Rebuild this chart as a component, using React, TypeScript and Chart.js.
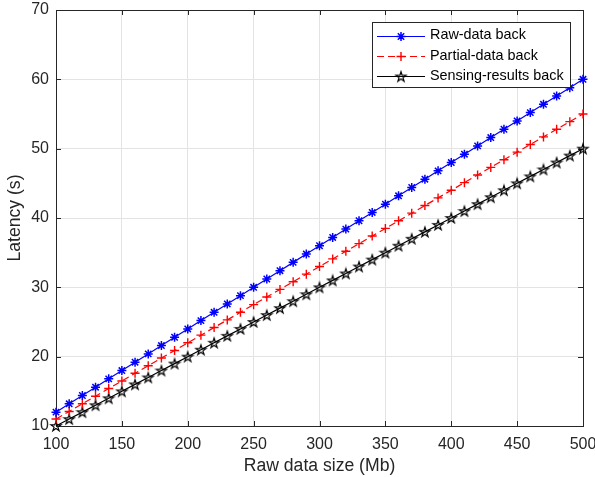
import React, { useEffect, useRef } from 'react';
import { Chart, registerables } from 'chart.js';
Chart.register(...registerables);

const xValues = [100, 110, 120, 130, 140, 150, 160, 170, 180, 190, 200, 210, 220, 230, 240, 250, 260, 270, 280, 290, 300, 310, 320, 330, 340, 350, 360, 370, 380, 390, 400, 410, 420, 430, 440, 450, 460, 470, 480, 490, 500];
const rawDataBack = [12, 13.2, 14.4, 15.6, 16.8, 18, 19.2, 20.4, 21.6, 22.8, 24, 25.2, 26.4, 27.6, 28.8, 30, 31.2, 32.4, 33.6, 34.8, 36, 37.2, 38.4, 39.6, 40.8, 42, 43.2, 44.4, 45.6, 46.8, 48, 49.2, 50.4, 51.6, 52.8, 54, 55.2, 56.4, 57.6, 58.8, 60];
const partialDataBack = [11, 12.1, 13.2, 14.3, 15.4, 16.5, 17.6, 18.7, 19.8, 20.9, 22, 23.1, 24.2, 25.3, 26.4, 27.5, 28.6, 29.7, 30.8, 31.9, 33, 34.1, 35.2, 36.3, 37.4, 38.5, 39.6, 40.7, 41.8, 42.9, 44, 45.1, 46.2, 47.3, 48.4, 49.5, 50.6, 51.7, 52.8, 53.9, 55];
const sensingResultsBack = [10, 11, 12, 13, 14, 15, 16, 17, 18, 19, 20, 21, 22, 23, 24, 25, 26, 27, 28, 29, 30, 31, 32, 33, 34, 35, 36, 37, 38, 39, 40, 41, 42, 43, 44, 45, 46, 47, 48, 49, 50];
const seriesLabels = ['Raw-data back', 'Partial-data back', 'Sensing-results back'];
const xTitle = 'Raw data size (Mb)';
const yTitle = 'Latency (s)';

const FONT = '"Liberation Sans", Arial, Helvetica, sans-serif';
const TXT = '#262626';

function makePentagram(): HTMLCanvasElement {
  const c = document.createElement('canvas');
  c.width = 14;
  c.height = 14;
  const ctx = c.getContext('2d')!;
  const R = 5.3;
  const r = R * 0.382;
  ctx.beginPath();
  for (let i = 0; i < 10; i++) {
    const ang = -Math.PI / 2 + (i * Math.PI) / 5;
    const rad = i % 2 === 0 ? R : r;
    const px = 7 + rad * Math.cos(ang);
    const py = 7.5 + rad * Math.sin(ang);
    if (i === 0) ctx.moveTo(px, py);
    else ctx.lineTo(px, py);
  }
  ctx.closePath();
  ctx.strokeStyle = '#000';
  ctx.lineWidth = 1.2;
  ctx.stroke();
  return c;
}

function drawMarker(ctx: CanvasRenderingContext2D, style: string, x: number, y: number, r: number) {
  ctx.beginPath();
  ctx.moveTo(x - r, y);
  ctx.lineTo(x + r, y);
  ctx.moveTo(x, y - r);
  ctx.lineTo(x, y + r);
  if (style === 'star') {
    const d = r * Math.SQRT1_2;
    ctx.moveTo(x - d, y - d);
    ctx.lineTo(x + d, y + d);
    ctx.moveTo(x - d, y + d);
    ctx.lineTo(x + d, y - d);
  }
  ctx.stroke();
}

export default function App() {
  const ref = useRef<HTMLCanvasElement | null>(null);

  useEffect(() => {
    document.body.style.margin = '0';
    const canvas = ref.current!;
    const penta = makePentagram();

    const framePlugin = {
      id: 'frame',
      beforeDatasetsDraw(chart: any) {
        const { ctx, chartArea } = chart;
        const { left, right, top, bottom } = chartArea;
        ctx.save();
        ctx.strokeStyle = TXT;
        ctx.lineWidth = 1;
        ctx.strokeRect(Math.round(left) + 0.5, Math.round(top) + 0.5, Math.round(right - left), Math.round(bottom - top));
        const tl = 5;
        const xs = chart.scales.x;
        const ys = chart.scales.y;
        ctx.beginPath();
        xs.ticks.forEach((t: any) => {
          const px = Math.round(xs.getPixelForValue(t.value)) + 0.5;
          ctx.moveTo(px, bottom);
          ctx.lineTo(px, bottom - tl);
          ctx.moveTo(px, top);
          ctx.lineTo(px, top + tl);
        });
        ys.ticks.forEach((t: any) => {
          const py = Math.round(ys.getPixelForValue(t.value)) + 0.5;
          ctx.moveTo(left, py);
          ctx.lineTo(left + tl, py);
          ctx.moveTo(right, py);
          ctx.lineTo(right - tl, py);
        });
        ctx.stroke();
        ctx.restore();
      },
    };

    const legendPlugin = {
      id: 'matlabLegend',
      afterDraw(chart: any) {
        const { ctx } = chart;
        const bx = 372, by = 22, bw = 198, bh = 65;
        ctx.save();
        ctx.fillStyle = '#ffffff';
        ctx.fillRect(bx, by, bw, bh);
        ctx.strokeStyle = TXT;
        ctx.lineWidth = 1;
        ctx.strokeRect(bx + 0.5, by + 0.5, bw, bh);
        const rows = [35.5, 56, 76];
        const ds = chart.data.datasets;
        ds.forEach((d: any, i: number) => {
          const y = rows[i];
          const ly = Math.round(y) + 0.5;
          ctx.save();
          ctx.strokeStyle = d.borderColor;
          ctx.lineWidth = d.borderWidth;
          if (d.borderDash) ctx.setLineDash(d.borderDash);
          ctx.beginPath();
          ctx.moveTo(377, ly);
          ctx.lineTo(425, ly);
          ctx.stroke();
          ctx.restore();
          const ps = d.pointStyle;
          if (typeof ps === 'string') {
            ctx.save();
            ctx.strokeStyle = d.pointBorderColor;
            ctx.lineWidth = d.pointBorderWidth;
            drawMarker(ctx, ps, 401, ly, d.pointRadius);
            ctx.restore();
          } else {
            ctx.drawImage(ps, 401 - ps.width / 2, ly - ps.height / 2);
          }
          ctx.fillStyle = '#000';
          ctx.font = `14.4px ${FONT}`;
          ctx.textBaseline = 'middle';
          ctx.textAlign = 'left';
          ctx.fillText(d.label, 430, y);
        });
        ctx.restore();
      },
    };

    const mk = (arr: number[]) => xValues.map((x, i) => ({ x, y: arr[i] }));

    const chart = new Chart(canvas, {
      type: 'line',
      data: {
        datasets: [
          {
            label: seriesLabels[0],
            data: mk(rawDataBack),
            borderColor: '#0000ff',
            backgroundColor: 'transparent',
            borderWidth: 1.2,
            pointStyle: 'star',
            pointRadius: 4.5,
            pointBorderColor: '#0000ff',
            pointBorderWidth: 1.5,
            tension: 0,
            clip: false,
          } as any,
          {
            label: seriesLabels[1],
            data: mk(partialDataBack),
            borderColor: '#ff0000',
            backgroundColor: 'transparent',
            borderWidth: 1.2,
            borderDash: [7, 4],
            pointStyle: 'cross',
            pointRadius: 4.5,
            pointBorderColor: '#ff0000',
            pointBorderWidth: 1.4,
            tension: 0,
            clip: false,
          } as any,
          {
            label: seriesLabels[2],
            data: mk(sensingResultsBack),
            borderColor: '#000000',
            backgroundColor: 'transparent',
            borderWidth: 1.2,
            pointStyle: penta,
            pointRadius: 5,
            pointBorderColor: '#000000',
            pointBorderWidth: 1.2,
            tension: 0,
            clip: false,
          } as any,
        ],
      },
      options: {
        animation: false,
        responsive: false,
        events: [],
        layout: { padding: { top: 10, right: 12, left: 0, bottom: 0 } },
        plugins: { legend: { display: false }, tooltip: { enabled: false } },
        scales: {
          x: {
            type: 'linear',
            min: 100,
            max: 500,
            ticks: { stepSize: 50, padding: 9, color: TXT, font: { size: 16, family: FONT } },
            grid: { color: '#e3e3e3', drawTicks: false, lineWidth: 1 },
            border: { display: false },
            title: { display: true, text: xTitle, color: TXT, font: { size: 17.6, family: FONT }, padding: { top: 0, bottom: 0 } },
            afterFit(scale: any) {
              scale.height = 51;
              scale.paddingLeft = 0;
              scale.paddingRight = 0;
            },
          },
          y: {
            type: 'linear',
            min: 10,
            max: 70,
            ticks: { stepSize: 10, padding: 7, color: TXT, font: { size: 16, family: FONT } },
            grid: { color: '#e3e3e3', drawTicks: false, lineWidth: 1 },
            border: { display: false },
            title: { display: true, text: yTitle, color: TXT, font: { size: 17.6, family: FONT }, padding: { top: 5, bottom: 0 } },
            afterFit(scale: any) {
              scale.width = 56;
              scale.paddingTop = 0;
              scale.paddingBottom = 0;
            },
          },
        },
      } as any,
      plugins: [framePlugin, legendPlugin],
    });
    return () => chart.destroy();
  }, []);

  return (
    <div style={{ width: 595, height: 477 }}>
      <canvas ref={ref} width={595} height={477} style={{ display: 'block' }} />
    </div>
  );
}
